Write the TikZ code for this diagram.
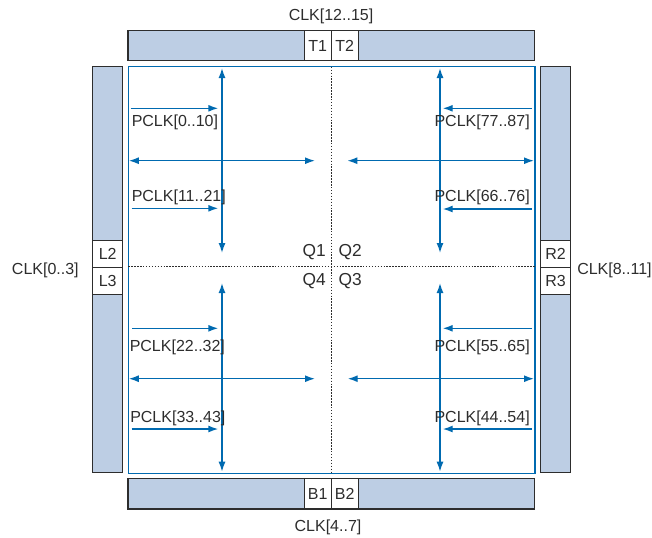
\documentclass[tikz,border=0pt]{standalone}
\usepackage{fontspec}
\setmainfont{Liberation Sans}
\usetikzlibrary{arrows.meta,positioning}
\definecolor{ckblue}{RGB}{0,106,176}
\definecolor{ckfill}{RGB}{189,206,228}
\definecolor{ckgray}{RGB}{45,45,45}
\newdimen\ckpx \ckpx=0.75pt
\newcommand{\ckfont}{\fontsize{12}{14}\selectfont}
\newcommand{\ckqfont}{\fontsize{13}{15}\selectfont}
\tikzset{
  ckbar/.style={draw=ckgray, fill=ckfill, line width=0.9pt},
  ckpad/.style={draw=ckgray, fill=white, line width=0.9pt, inner sep=0pt, outer sep=0pt, font=\ckfont, text=ckgray},
  ckhpad/.style={ckpad, minimum width=27\ckpx, minimum height=30\ckpx},
  ckvpad/.style={ckpad, minimum width=30\ckpx, minimum height=27\ckpx},
  ckcore/.style={draw=ckblue, line width=1.1pt, inner sep=0pt, outer sep=0pt},
  ckarrow/.style={-{Latex[length=7.5pt, width=5.25pt]}, ckblue, line width=1.05pt},
  ckdarrow/.style={{Latex[length=7.5pt, width=5.25pt]}-{Latex[length=7.5pt, width=5.25pt]}, ckblue, line width=1.05pt},
  ckdot/.style={ckgray, line width=0.75pt, dash pattern=on 1.1pt off 1.1pt},
  cklabel/.style={font=\ckfont, text=ckgray, inner sep=0pt},
  ckqlabel/.style={font=\ckqfont, text=ckgray, inner sep=0pt},
}

\begin{document}
\begin{tikzpicture}[x=0.75pt, y=-0.75pt]
  \useasboundingbox (0,0) rectangle (652,537);

  % clock bars round the core
  \draw[ckbar] (128,30.7) rectangle (534.5,60.7);
  \draw[ckbar] (128,478.3) rectangle (534.5,509);
  \draw[ckbar] (92.7,66.7) rectangle (122.7,472.7);
  \draw[ckbar] (540.7,66.7) rectangle (570.3,472.7);

  \node[ckhpad] (T1) at (317.7,45.7) {T1};
  \node[ckhpad, right=0pt of T1] (T2) {T2};
  \node[ckhpad] (B1) at (317.7,493.7) {B1};
  \node[ckhpad, right=0pt of B1] (B2) {B2};
  \node[ckvpad] (L2) at (107.7,253.7) {L2};
  \node[ckvpad, below=0pt of L2] (L3) {L3};
  \node[ckvpad] (R2) at (555.5,253.7) {R2};
  \node[ckvpad, below=0pt of R2] (R3) {R3};

  \node[cklabel, anchor=base] (ctop) at (331,20) {CLK[12..15]};
  \node[cklabel, anchor=base] (cbot) at (328,531.5) {CLK[4..7]};
  \node[cklabel, anchor=base west] (cleft) at (11.7,274) {CLK[0..3]};
  \node[cklabel, anchor=base west] (cright) at (577,274) {CLK[8..11]};

  % core and quadrants
  \node[ckcore, minimum width=406.7\ckpx, minimum height=406.6\ckpx] (core) at (331.7,270) {};
  \coordinate (qmid) at (331.7,266.7);
  \draw[ckdot] (core.north) -- (core.south);
  \draw[ckdot] (core.west |- qmid) -- (core.east |- qmid);

  \node[ckqlabel, anchor=base east] (Q1) at (326,256.7) {Q1};
  \node[ckqlabel, anchor=base west] (Q2) at (338.3,256.7) {Q2};
  \node[ckqlabel, anchor=base east] (Q4) at (326,285) {Q4};
  \node[ckqlabel, anchor=base west] (Q3) at (338.3,285) {Q3};

  % spines
  \coordinate (v1t) at (222,68);    \coordinate (v1b) at (222,253);
  \coordinate (v2t) at (440,68);    \coordinate (v2b) at (440,253);
  \coordinate (v4t) at (222,283);   \coordinate (v4b) at (222,471.7);
  \coordinate (v3t) at (440,283);   \coordinate (v3b) at (440,471.7);
  \draw[ckdarrow] (v1t) -- (v1b);
  \draw[ckdarrow] (v2t) -- (v2b);
  \draw[ckdarrow] (v4t) -- (v4b);
  \draw[ckdarrow] (v3t) -- (v3b);

  \coordinate (h1l) at (128.8,160.7);  \coordinate (h1r) at (315,160.7);
  \coordinate (h2l) at (347.3,160.7);  \coordinate (h2r) at (534,160.7);
  \coordinate (h4l) at (128.8,378.7);  \coordinate (h4r) at (315,378.7);
  \coordinate (h3l) at (347.7,378.7);  \coordinate (h3r) at (534,378.7);
  \draw[ckdarrow] (h1l) -- (h1r);
  \draw[ckdarrow] (h2l) -- (h2r);
  \draw[ckdarrow] (h4l) -- (h4r);
  \draw[ckdarrow] (h3l) -- (h3r);

  % PCLK feeds
  \coordinate (p0s) at (130.7,108.3);  \coordinate (p0e) at (218.3,108.3);
  \coordinate (p11s) at (131.7,208.3); \coordinate (p11e) at (218.3,208.3);
  \coordinate (p22s) at (132,328.3);   \coordinate (p22e) at (218.3,328.3);
  \coordinate (p33s) at (131.7,429);   \coordinate (p33e) at (218.3,429);
  \coordinate (p77s) at (531.7,108.3); \coordinate (p77e) at (442.7,108.3);
  \coordinate (p66s) at (531.7,209);   \coordinate (p66e) at (442.7,209);
  \coordinate (p55s) at (532,328.3);   \coordinate (p55e) at (442.7,328.3);
  \coordinate (p44s) at (531.7,429);   \coordinate (p44e) at (442.7,429);
  \draw[ckarrow] (p0s) -- (p0e);
  \draw[ckarrow] (p11s) -- (p11e);
  \draw[ckarrow] (p22s) -- (p22e);
  \draw[ckarrow] (p33s) -- (p33e);
  \draw[ckarrow] (p77s) -- (p77e);
  \draw[ckarrow] (p66s) -- (p66e);
  \draw[ckarrow] (p55s) -- (p55e);
  \draw[ckarrow] (p44s) -- (p44e);

  \node[cklabel, anchor=base west] (l0) at (131.5,126) {PCLK[0..10]};
  \node[cklabel, anchor=base west] (l11) at (131.5,201) {PCLK[11..21]};
  \node[cklabel, anchor=base west] (l22) at (129.5,351) {PCLK[22..32]};
  \node[cklabel, anchor=base west] (l33) at (130,422) {PCLK[33..43]};
  \node[cklabel, anchor=base east] (l77) at (530,126) {PCLK[77..87]};
  \node[cklabel, anchor=base east] (l66) at (530,201) {PCLK[66..76]};
  \node[cklabel, anchor=base east] (l55) at (530,351) {PCLK[55..65]};
  \node[cklabel, anchor=base east] (l44) at (530,422) {PCLK[44..54]};
\end{tikzpicture}
\end{document}
